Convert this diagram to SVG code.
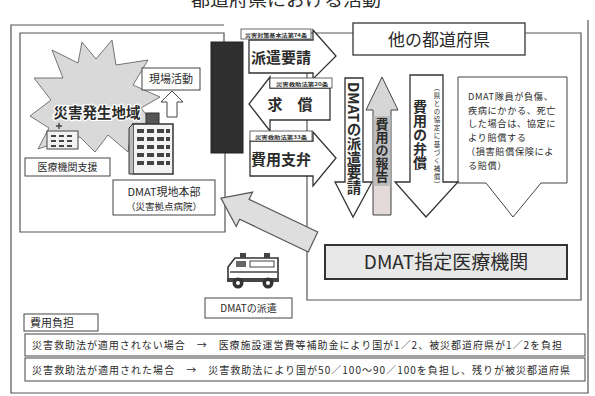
<svg xmlns="http://www.w3.org/2000/svg" width="595" height="396" viewBox="0 0 595 396">
  <style>
    text { font-family: 'Noto Sans CJK JP', 'Noto Sans', sans-serif; fill: #2b2b2b; }
    .frame { fill: none; stroke: #555; stroke-width: 1.2; }
    .box { fill: #fff; stroke: #444; stroke-width: 1; }
    .arr { fill: #fff; stroke: #333; stroke-width: 1.3; stroke-linejoin: miter; }
    .big { font-weight: 700; font-size: 15px; }
    .lbl { font-size: 10px; }
    .tiny { font-size: 5px; font-weight: 700; }
    .vt { writing-mode: vertical-rl; }
  </style>

  <!-- heading (runs off the top edge) -->
  <text x="286" y="6" font-size="16" text-anchor="middle" fill="#555" textLength="190" lengthAdjust="spacingAndGlyphs">都道府県における活動</text>

  <!-- outer frame -->
  <path class="frame" d="M224,25 H11 V393 H588 V20"/>

  <!-- left area: affected region -->
  <g id="affected-area">
    <path class="frame" d="M224,42 V33 H20 V232 H225 V153" stroke="#444"/>
    <!-- starburst -->
    <polygon points="30,116 51,100 34,78 63,78 52,50 78,63 82,42 96,59 112,40 116,65 148,60 133,85 160,97 141,108 153,123 132,124 128,152 108,135 95,152 80,137 62,141 38,149 49,128" fill="#d9d9d9" stroke="#666" stroke-width="0.9"/>
    <text x="97" y="118" font-size="14.5" font-weight="700" text-anchor="middle" stroke="#fff" stroke-width="2.5" paint-order="stroke" fill="#3a3a3a">災害発生地域</text>
    <!-- small hospital -->
    <g stroke="#444" stroke-width="1" fill="#f2f2f2">
      <rect x="47" y="131" width="31" height="18"/>
      <path d="M56,126 h6 M59,123 v6" fill="none" stroke-width="1.4"/>
      <path d="M51,136 h5 M59,136 h5 M67,136 h5 M51,141 h5 M59,141 h5 M67,141 h5 M51,146 h5 M59,146 h5 M67,146 h5" stroke-width="2"/>
    </g>
  </g>

  <g id="support-label">
    <rect class="box" x="25" y="158" width="85" height="18"/>
    <text class="lbl" x="67.5" y="171" text-anchor="middle" font-size="10.5">医療機関支援</text>
  </g>

  <g id="field-activity">
    <rect class="box" x="142" y="68" width="58" height="22"/>
    <text x="171" y="83" font-size="11" text-anchor="middle">現場活動</text>
    <polygon points="167,117 177,117 177,102 183,102 172,91 161,102 167,102" fill="#fff" stroke="#444" stroke-width="1"/>
  </g>

  <g id="hq-building">
    <rect x="146" y="113" width="13" height="13" fill="#555" stroke="#333"/>
    <rect x="133" y="124" width="40" height="50" fill="#f3f3f3" stroke="#333" stroke-width="1.5"/>
    <path d="M133,124 l-4,4 v46 h4" fill="#bbb" stroke="#333"/>
    <g fill="#444">
      <rect x="137" y="129" width="7" height="4"/><rect x="147" y="129" width="7" height="4"/><rect x="157" y="129" width="7" height="4"/><rect x="166" y="129" width="4" height="4"/>
      <rect x="137" y="137" width="7" height="4"/><rect x="147" y="137" width="7" height="4"/><rect x="157" y="137" width="7" height="4"/><rect x="166" y="137" width="4" height="4"/>
      <rect x="137" y="145" width="7" height="4"/><rect x="147" y="145" width="7" height="4"/><rect x="157" y="145" width="7" height="4"/><rect x="166" y="145" width="4" height="4"/>
      <rect x="137" y="153" width="7" height="4"/><rect x="147" y="153" width="7" height="4"/><rect x="157" y="153" width="7" height="4"/><rect x="166" y="153" width="4" height="4"/>
      <rect x="137" y="161" width="7" height="4"/><rect x="147" y="161" width="7" height="4"/><rect x="157" y="161" width="7" height="4"/><rect x="166" y="161" width="4" height="4"/>
    </g>
  </g>

  <g id="dmat-hq">
    <rect class="box" x="113" y="180" width="102" height="35"/>
    <text x="164" y="196" font-size="11" text-anchor="middle">DMAT現地本部</text>
    <text x="164" y="210" font-size="9.5" text-anchor="middle">（災害拠点病院）</text>
  </g>

  <!-- prefecture bar -->
  <g id="prefecture-bar">
    <rect x="211" y="42" width="32" height="111" fill="#2f2f2f" stroke="#222"/>
  </g>

  <!-- right area: other prefectures -->
  <g id="other-prefectures">
    <path class="frame" d="M307,300 V33 H581 V300 Z" stroke="#444"/>
    <rect x="353" y="23" width="172" height="32" fill="#fff" stroke="#444" stroke-width="1.4"/>
    <text x="439" y="46" font-size="17" text-anchor="middle">他の都道府県</text>
  </g>

  <g id="dmat-hospital">
    <rect x="325" y="245" width="242" height="34" fill="#e8e8e8" stroke="#333" stroke-width="2"/>
    <text x="446" y="269" font-size="19" text-anchor="middle">DMAT指定医療機関</text>
  </g>

  <g id="compensation-note">
    <polygon points="458,77 567,77 567,183 541,183 513,217 486,183 458,183" fill="#fff" stroke="#444" stroke-width="1"/>
    <g font-size="9.2" letter-spacing="0.6">
      <text x="468" y="100">DMAT隊員が負傷、</text>
      <text x="468" y="113.5">疾病にかかる、死亡</text>
      <text x="468" y="127">した場合は、協定に</text>
      <text x="468" y="140.5">より賠償する</text>
      <text x="466" y="155">（損害賠償保険によ</text>
      <text x="468" y="168.5">る賠償）</text>
    </g>
  </g>

  <g id="ambulance">
    <path d="M228,280 V267 L235,258 H278 V280 Z" fill="#fff" stroke="#333" stroke-width="1.6"/>
    <rect x="240" y="253" width="6" height="5" fill="#444"/>
    <rect x="264" y="253" width="6" height="5" fill="#444"/>
    <rect x="236" y="261" width="10" height="6" fill="#666"/>
    <rect x="250" y="261" width="24" height="6" fill="none" stroke="#444"/>
    <path d="M230,272 H277" stroke="#444" stroke-width="1.5"/>
    <rect x="227" y="278" width="52" height="4" fill="#444"/>
    <circle cx="238" cy="283" r="5.5" fill="#333"/><circle cx="238" cy="283" r="2" fill="#fff"/>
    <circle cx="268" cy="283" r="5.5" fill="#333"/><circle cx="268" cy="283" r="2" fill="#fff"/>
  </g>

  <g id="dispatch-label">
    <rect class="box" x="205" y="298" width="87" height="20"/>
    <text class="lbl" x="248.5" y="312" text-anchor="middle">DMATの派遣</text>
  </g>

  <!-- connectors -->
  <g id="connectors">
    <!-- dispatch request -->
    <polygon class="arr" points="249,40 313,40 313,30 336,56 313,79 313,73 249,73"/>
    <rect x="241" y="29" width="70" height="10" fill="#fff" stroke="#444" stroke-width="0.8"/>
    <text class="tiny" x="245" y="36.5" textLength="62" lengthAdjust="spacingAndGlyphs">災害対策基本法第74条</text>
    <text class="big" x="281" y="63" text-anchor="middle">派遣要請</text>

    <!-- reimbursement claim -->
    <polygon class="arr" points="270,88 330,88 330,120 270,120 270,131 249,104 270,77"/>
    <rect x="270" y="78" width="62" height="10" fill="#fff" stroke="#444" stroke-width="0.8"/>
    <text class="tiny" x="276" y="85.5" textLength="52" lengthAdjust="spacingAndGlyphs">災害救助法第20条</text>
    <text class="big" x="290" y="110" text-anchor="middle">求　償</text>

    <!-- cost payment -->
    <polygon class="arr" points="250,141 313,141 313,132 336,158 313,186 313,176 250,176"/>
    <rect x="250" y="131" width="62" height="10" fill="#fff" stroke="#444" stroke-width="0.8"/>
    <text class="tiny" x="255" y="138.5" textLength="52" lengthAdjust="spacingAndGlyphs">災害救助法第33条</text>
    <text class="big" x="281" y="165" text-anchor="middle">費用支弁</text>

    <!-- DMAT dispatch request (down) -->
    <polygon class="arr" points="345,78 363,78 363,182 372,182 353,217 335,182 345,182" stroke-width="1"/>
    <text class="vt" x="354" y="82" font-size="14.5" font-weight="700">DMATの派遣要請</text>

    <!-- cost report (up) -->
    <polygon points="373,215 391,215 391,110 398,110 382,77 366,110 373,110" fill="#d6d6d6" stroke="#444" stroke-width="1"/>
    <rect x="373.5" y="116" width="17" height="70" fill="#bdbdbd"/>
    <rect x="374" y="186" width="16" height="28" fill="#e4dada"/>
    <text class="vt" x="382" y="118" font-size="13" font-weight="700">費用の報告</text>

    <!-- cost compensation (down) -->
    <polygon class="arr" points="410,75 443,75 443,182 458,182 426,217 395,182 410,182" stroke-width="1"/>
    <text class="vt" x="420" y="100" font-size="14" font-weight="700">費用の弁償</text>
    <text class="vt" x="437" y="84" font-size="6.5" textLength="104" lengthAdjust="spacing">（県との協定に基づく補償）</text>

    <!-- team dispatch (fat arrow) -->
    <polygon transform="translate(313,242) rotate(205.5)" points="0,-11 76,-11 76,-19 102,0 76,19 76,11 0,11" fill="#dedede" stroke="#555" stroke-width="1.2"/>
  </g>

  <!-- cost burden -->
  <g id="cost-burden">
    <rect class="box" x="24" y="314" width="74" height="17"/>
    <text x="30" y="327" font-size="11">費用負担</text>
    <rect class="box" x="25" y="334" width="560" height="22"/>
    <text x="32" y="349" font-size="10" textLength="530" lengthAdjust="spacing">災害救助法が適用されない場合　→　医療施設運営費等補助金により国が1／2、被災都道府県が1／2を負担</text>
    <rect class="box" x="25" y="358" width="560" height="23"/>
    <text x="32" y="374" font-size="10" textLength="538" lengthAdjust="spacing">災害救助法が適用された場合　→　災害救助法により国が50／100～90／100を負担し、残りが被災都道府県</text>
  </g>
</svg>
